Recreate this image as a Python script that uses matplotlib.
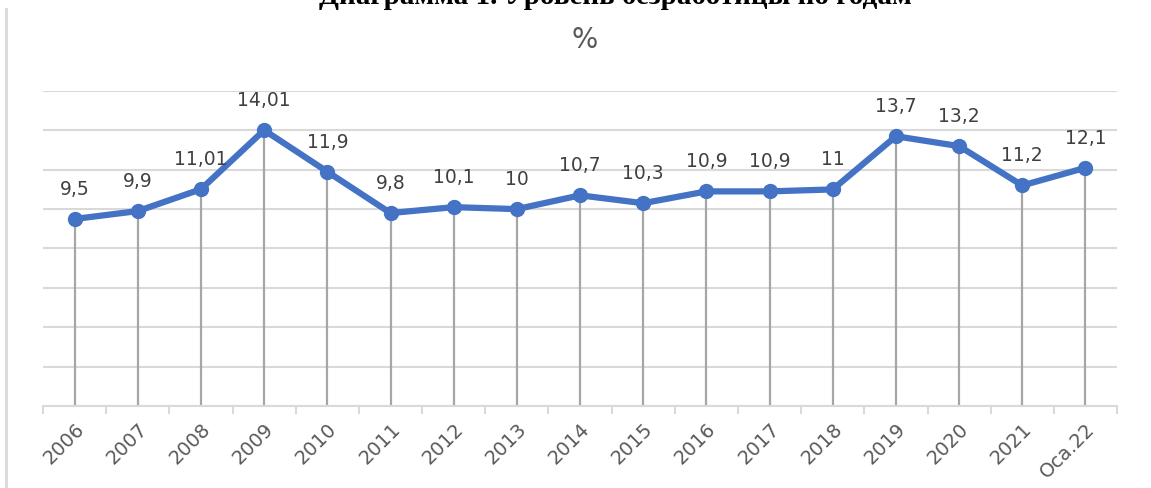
import numpy as np
import matplotlib.pyplot as plt
import matplotlib as mpl
from matplotlib.lines import Line2D

years = ['2006', '2007', '2008', '2009', '2010', '2011', '2012', '2013', '2014',
         '2015', '2016', '2017', '2018', '2019', '2020', '2021', 'Oca.22']
rate = [9.5, 9.9, 11.01, 14.01, 11.9, 9.8, 10.1, 10, 10.7,
        10.3, 10.9, 10.9, 11, 13.7, 13.2, 11.2, 12.1]
labels = ['9,5', '9,9', '11,01', '14,01', '11,9', '9,8', '10,1', '10', '10,7',
          '10,3', '10,9', '10,9', '11', '13,7', '13,2', '11,2', '12,1']

mpl.rc('font', family='DejaVu Sans')

fig = plt.figure(figsize=(11.51, 4.89), dpi=100)
ax = fig.add_axes([0.0374, 0.1677, 0.9331, 0.6442])

x = np.arange(len(years))

ax.vlines(x, 0, rate, color='#a6a6a6', lw=1.6, zorder=2)
ax.plot(x, rate, color='#4472C4', lw=4.5, marker='o', markersize=10,
        solid_capstyle='round', zorder=3)

for xi, v, t in zip(x, rate, labels):
    ax.annotate(t, (xi, v), xytext=(0, 22), textcoords='offset points',
                ha='center', va='center', fontsize=13.5, color='#404040')

ax.set_xlim(-0.5, len(years) - 0.5)
ax.set_ylim(0, 16)
ax.set_yticks(np.arange(0, 17, 2))
ax.yaxis.grid(True, color='#d9d9d9', lw=1.5)
ax.set_axisbelow(True)
ax.tick_params(axis='y', left=False, labelleft=False)

ax.set_xticks(x)
ax.set_xticklabels(years, rotation=45, ha='right', rotation_mode='anchor',
                   fontsize=14, color='#595959')
ax.set_xticks(np.arange(-0.5, len(years), 1), minor=True)
ax.tick_params(axis='x', which='major', length=0, pad=9)
ax.tick_params(axis='x', which='minor', length=6, color='#d9d9d9', width=1.5)

for s in ['top', 'right', 'left']:
    ax.spines[s].set_visible(False)
ax.spines['bottom'].set_color('#d9d9d9')
ax.spines['bottom'].set_linewidth(1.5)

fig.text(0.508, 0.918, '%', ha='center', va='center', fontsize=20, color='#595959')
fig.text(0.535, 1.008, 'Диаграмма 1. Уровень безработицы по годам', ha='center',
         va='center', fontsize=21, fontweight='bold', family='Liberation Serif')

fig.add_artist(Line2D([0.0055, 0.0055], [0, 0.98], color='#d9d9d9', lw=2,
                      transform=fig.transFigure))

plt.savefig('out.png', dpi=100)
